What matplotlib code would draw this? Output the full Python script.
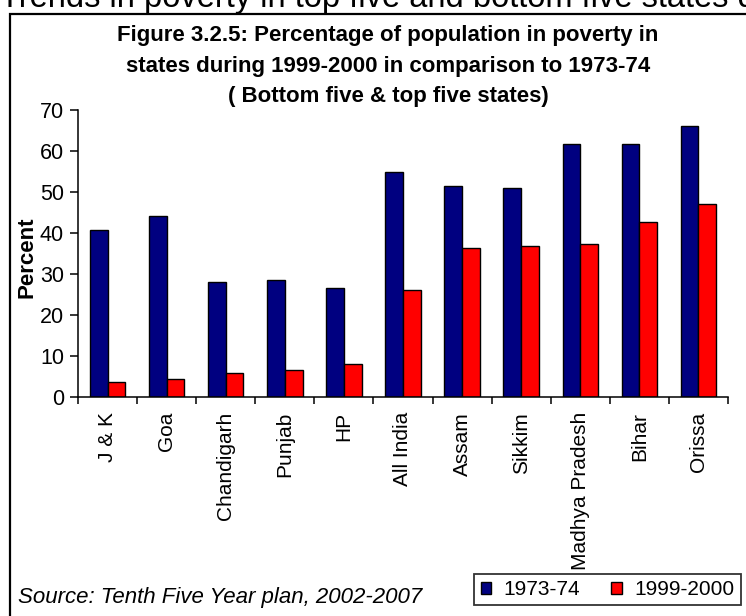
import numpy as np
import matplotlib
matplotlib.use("Agg")
import matplotlib.pyplot as plt
from matplotlib.patches import Rectangle

plt.rcParams["font.family"] = ["Liberation Sans", "DejaVu Sans"]

# Poverty ratios (% of population below poverty line)
states = ["J & K", "Goa", "Chandigarh", "Punjab", "HP", "All India",
          "Assam", "Sikkim", "Madhya Pradesh", "Bihar", "Orissa"]
pov_1973 = [40.7, 44.2, 28.0, 28.5, 26.5, 54.9, 51.4, 51.0, 61.8, 61.8, 66.2]
pov_1999 = [3.5, 4.4, 5.9, 6.4, 7.9, 26.0, 36.2, 36.8, 37.3, 42.7, 47.1]
series_labels = ["1973-74", "1999-2000"]

W, H = 746, 616
fig = plt.figure(figsize=(W / 100, H / 100), dpi=100)

def fx(px):
    return px / W

def fy(py):
    return 1 - py / H

# page heading (cut by the frame) and outer box
fig.text(fx(0), fy(7), "Trends in poverty in top five and bottom five states during",
         fontsize=23.5, va="baseline", ha="left")
fig.patches.append(Rectangle((fx(10), fy(700)), 1.2, fy(14) - fy(700),
                             transform=fig.transFigure, fill=False,
                             edgecolor="black", linewidth=1.6))

ax = fig.add_axes([fx(78), fy(396.7), fx(728) - fx(78), fy(110) - fy(396.7)])

x = np.arange(len(states))
w = 0.3
b1 = ax.bar(x + 0.35, pov_1973, width=w, color="#000080", edgecolor="black",
            linewidth=1.0, label=series_labels[0])
b2 = ax.bar(x + 0.65, pov_1999, width=w, color="#ff0000", edgecolor="black",
            linewidth=1.0, label=series_labels[1])

ax.set_xlim(0, len(states))
ax.set_ylim(0, 70)
ax.set_yticks(np.arange(0, 71, 10))
ax.tick_params(axis="y", labelsize=15.5, length=6, width=1.1, pad=4, direction="out")

# labels under category centres, tick marks on category boundaries
ax.set_xticks(x + 0.5)
ax.set_xticklabels(states, rotation=90, fontsize=15)
ax.tick_params(axis="x", which="major", length=0, pad=11)
ax.set_xticks(np.arange(len(states) + 1), minor=True)
ax.tick_params(axis="x", which="minor", length=5, width=1.1, direction="out")

for s in ["top", "right"]:
    ax.spines[s].set_visible(False)
for s in ["left", "bottom"]:
    ax.spines[s].set_linewidth(1.1)

ax.set_ylabel("Percent", fontsize=16, fontweight="bold")
ax.yaxis.set_label_coords(-(78 - 38) / (728 - 78), (396.7 - 257) / (396.7 - 110))

title_lines = ["Figure 3.2.5: Percentage of population in poverty in",
               "states during 1999-2000 in comparison to 1973-74",
               "( Bottom five & top five states)"]
for line, yb in zip(title_lines, [41.5, 72, 102]):
    fig.text(fx(388), fy(yb), line, fontsize=16, fontweight="bold",
             ha="center", va="baseline")

fig.text(fx(18), fy(598), "Source: Tenth Five Year plan, 2002-2007",
         fontsize=16, style="italic", ha="left", va="center")

leg = fig.legend(handles=[b1, b2], loc="center",
                 bbox_to_anchor=(fx(607.5), fy(589.5)), ncol=2, fontsize=15,
                 frameon=True, fancybox=False, edgecolor="black",
                 handlelength=0.5, handleheight=0.5, handletextpad=0.6,
                 columnspacing=1.5, borderpad=0.3)
leg.get_frame().set_linewidth(1.3)

fig.savefig("out.png", dpi=100)
